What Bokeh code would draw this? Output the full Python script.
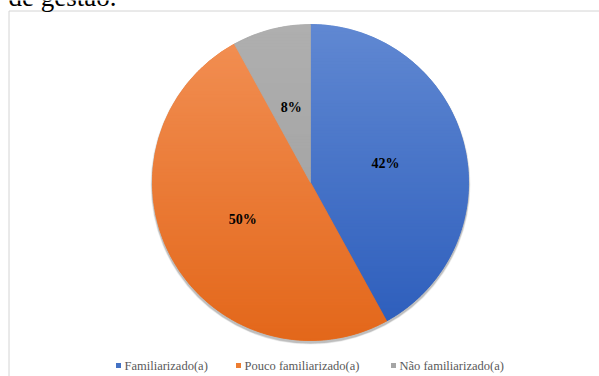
import numpy as np
from bokeh.plotting import figure
from bokeh.models import Range1d
from bokeh.core.properties import value
from bokeh.embed import file_html
from bokeh.resources import INLINE

# ---- data ----
categories = ["Familiarizado(a)", "Pouco familiarizado(a)", "Não familiarizado(a)"]
percentages = [42, 50, 8]
labels = ["42%", "50%", "8%"]
colors = ["#4472c4", "#ed7d31", "#a5a5a5"]
colors_top = ["#6088d2", "#f29055", "#afafaf"]
colors_bottom = ["#2b5cbb", "#e3671a", "#9c9c9c"]
caption = "de gestão."

W, H = 599, 376
p = figure(width=W, height=H, x_range=Range1d(0, W), y_range=Range1d(0, H),
           output_backend="svg", toolbar_location=None, min_border=0)
p.axis.visible = False
p.grid.visible = False
p.outline_line_color = None
p.background_fill_color = "white"
p.border_fill_color = "white"

# chart border
p.quad(left=[8.5], right=[W + 5], bottom=[-5], top=[H - 10.5],
       fill_color=None, line_color="#d4d4d4", line_width=1)

# caption text cut at top
p.text(x=[8], y=[H + 4], text=[caption], text_font=value("Liberation Serif"),
       text_font_size="27px", text_baseline="alphabetic", text_align="left",
       text_color="black")

cx, cy, r = 310, H - 182, 158
fr = np.array(percentages, dtype=float) / sum(percentages)
cum = np.concatenate([[0.0], np.cumsum(fr)])
start = np.pi / 2 - cum[1:] * 2 * np.pi
end = np.pi / 2 - cum[:-1] * 2 * np.pi

# soft shadow
for k, a in zip([4, 3, 2], [0.08, 0.12, 0.18]):
    p.circle(x=[cx], y=[cy - 2], radius=r + k * 0.5, fill_color="#404040",
             fill_alpha=a, line_color=None)

p.wedge(x=cx, y=cy, radius=r, start_angle=start, end_angle=end,
        fill_color=colors, line_color=colors, line_width=0.5)


# vertical gradient shading of each slice (horizontal bands clipped to the wedge)
def hex2rgb(h):
    h = h.lstrip("#")
    return np.array([int(h[i:i + 2], 16) for i in (0, 2, 4)], dtype=float)


def clip(poly, yv, keep_above):
    out = []
    n = len(poly)
    for i in range(n):
        a, b = poly[i], poly[(i + 1) % n]
        ina = a[1] >= yv if keep_above else a[1] <= yv
        inb = b[1] >= yv if keep_above else b[1] <= yv
        if ina:
            out.append(a)
        if ina != inb:
            t = (yv - a[1]) / (b[1] - a[1])
            out.append((a[0] + t * (b[0] - a[0]), yv))
    return out


band = 3.0
edges = np.arange(cy - r, cy + r + band, band)
bx, by, bc = [], [], []
for s, e, ct, cb in zip(start, end, colors_top, colors_bottom):
    ang = np.linspace(s, e, 240)
    poly = [(cx, cy)] + [(cx + r * np.cos(a), cy + r * np.sin(a)) for a in ang]
    top_c, bot_c = hex2rgb(ct), hex2rgb(cb)
    for y0, y1 in zip(edges[:-1], edges[1:]):
        q = clip(poly, y0, True)
        if len(q) < 3:
            continue
        q = clip(q, y1, False)
        if len(q) < 3:
            continue
        t = ((y0 + y1) / 2 - (cy - r)) / (2 * r)
        c = bot_c + (top_c - bot_c) * t
        bx.append([pt[0] for pt in q])
        by.append([pt[1] for pt in q])
        bc.append("#%02x%02x%02x" % tuple(int(round(v)) for v in c))
p.patches(xs=bx, ys=by, fill_color=bc, line_color=bc, line_width=0.7)

mid = (start + end) / 2
lr = 0.49 * r
p.text(x=cx + lr * np.cos(mid), y=cy + lr * np.sin(mid), text=labels,
       text_font=value("Liberation Serif"), text_font_style="bold",
       text_font_size="14px", text_align="center", text_baseline="middle",
       text_color="black")

# legend
lx = np.array([115.5, 235.5, 390.5])
ly = H - 365
p.rect(x=lx + 2.5, y=[ly] * 3, width=5, height=5, fill_color=colors, line_color=None)
p.text(x=lx + 8.5, y=[ly] * 3, text=categories, text_font=value("Liberation Serif"),
       text_font_size="12.5px", text_align="left", text_baseline="middle",
       text_color="#595959")

open("out.html", "w").write(file_html(p, INLINE))
